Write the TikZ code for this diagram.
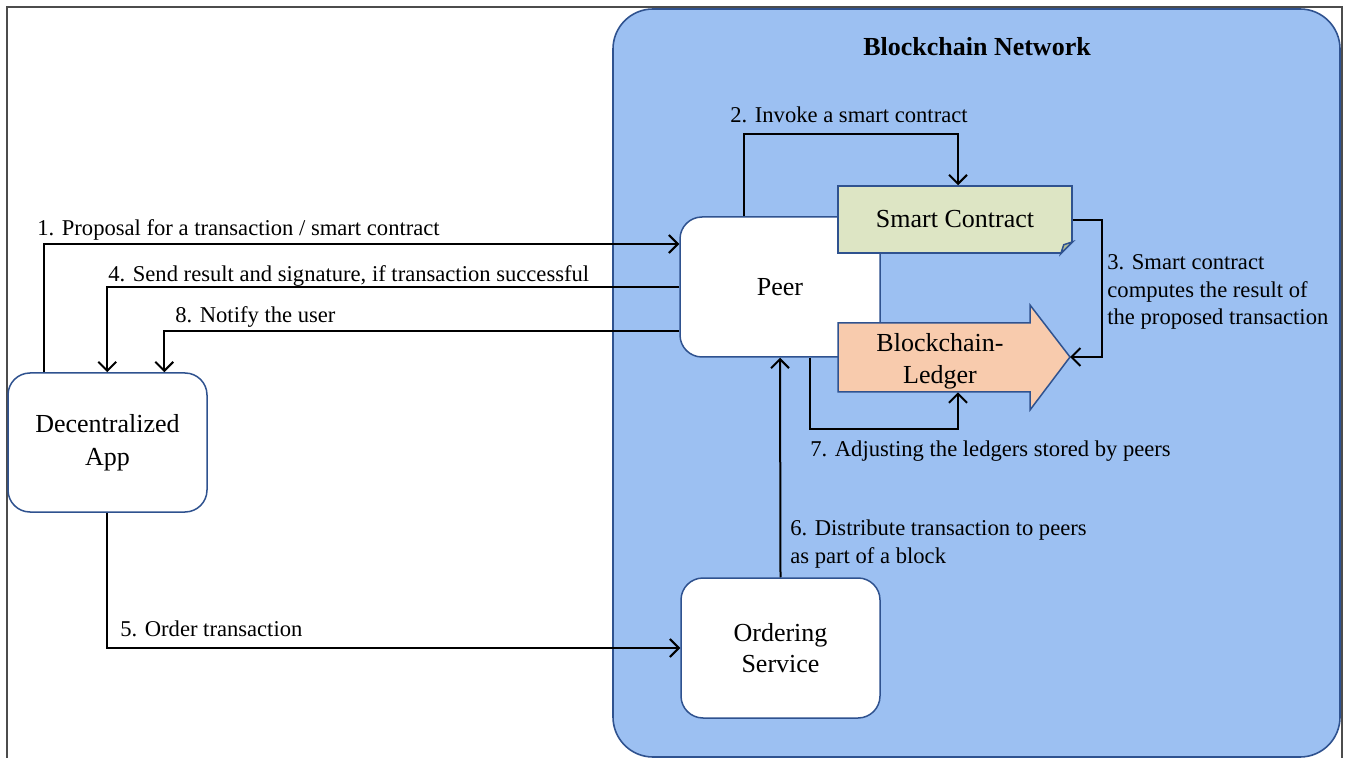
\documentclass[tikz,border=0pt]{standalone}
\usepackage{fontspec}
\setmainfont{Liberation Serif}
\usepackage{xcolor}
\usetikzlibrary{arrows.meta}

\definecolor{netblue}{RGB}{156,192,242}
\definecolor{edgeblue}{RGB}{47,82,143}
\definecolor{contractgreen}{RGB}{221,229,196}
\definecolor{foldgreen}{RGB}{178,188,150}
\definecolor{ledgerorange}{RGB}{248,203,173}

\begin{document}
\begin{tikzpicture}[x=0.5pt,y=-0.5pt,
    box/.style={draw=edgeblue, line width=0.75pt, fill=white, rounded corners=11pt,
        minimum width=100pt, minimum height=70pt, align=center, inner sep=0pt,
        font=\fontsize{13}{16}\selectfont},
    flow/.style={draw=black, line width=1pt, -{Straight Barb[length=4.5pt,width=9pt]}},
    lbl/.style={inner sep=0pt, font=\fontsize{11.3}{13.9}\selectfont}]
    \clip (0,0) rectangle (1348,758);
    \draw[gray!60!black, line width=0.6pt] (7,7) rectangle (1342,780);
    \draw[fill=netblue, draw=edgeblue, line width=0.8pt, rounded corners=20pt] (613,9) rectangle (1340,757);
    \node[font=\fontsize{13}{16}\selectfont\bfseries] (title) at (977,47) {Blockchain Network};

    \node[box, minimum width=99.5pt, minimum height=69.5pt, font=\fontsize{13}{16.5}\selectfont] (app) at (107.5,442.5) {Decentralized\\App};
    \node[box] (peer) at (780,287) {Peer};
    \node[box, minimum width=99.5pt, font=\fontsize{13}{15.5}\selectfont] (order) at (780.5,648) {Ordering\\Service};

    \node[draw=edgeblue, line width=0.75pt, fill=contractgreen, minimum width=117pt, minimum height=33.5pt,
        inner sep=0pt, font=\fontsize{13}{16}\selectfont] (smart) at (955,219.5) {Smart Contract};
    \fill[netblue] ([xshift=-6.4pt]smart.south east) -- ([xshift=0.6pt,yshift=-0.6pt]smart.south east)
        -- ([yshift=6.4pt]smart.south east) -- cycle;
    \filldraw[fill=foldgreen, draw=edgeblue, line width=0.75pt] ([xshift=-6pt]smart.south east)
        -- ([yshift=6pt]smart.south east) -- ([xshift=-4.5pt,yshift=4.5pt]smart.south east) -- cycle;

    \filldraw[fill=ledgerorange, draw=edgeblue, line width=0.75pt] (838,323) -- (1030,323) -- (1030,305)
        -- (1070,357) -- (1030,410) -- (1030,392) -- (838,392) -- cycle;
    \coordinate (ledgertip) at (1070,357);
    \node[minimum width=96pt, minimum height=34.5pt, inner sep=0pt] (ledger) at (934,357.5) {};
    \node[align=center, font=\fontsize{13}{16}\selectfont] (ledgertext) at (940,361) {Blockchain-\\Ledger};

    \draw[flow] ([xshift=18.5pt]app.north west) |- ([yshift=21.5pt]peer.west);
    \draw[flow] (peer.west) -| ([xshift=50pt]app.north west);
    \draw[flow] ([yshift=-22pt]peer.west) -| ([xshift=78.5pt]app.north west);
    \draw[flow] ([xshift=32.5pt]peer.north west) -- ++(0,-82) -| ([xshift=1.5pt]smart.north);
    \draw[flow] ([yshift=-0.5pt]smart.east) -- ++(29,0) |- (ledgertip);
    \draw[flow] ([xshift=15pt]peer.south) -- ++(0,71) -| ([xshift=12pt]ledger.south);
    \draw[flow] (order.north) -- (peer.south);
    \draw[flow] ([xshift=50pt]app.south west) |- (order.west);

    \node[lbl, anchor=base west] (l1) at (37,236) {1. Proposal for a transaction / smart contract};
    \node[lbl, anchor=base west] (l4) at (108,282) {4. Send result and signature, if transaction successful};
    \node[lbl, anchor=base west] (l8) at (175,323) {8. Notify the user};
    \node[lbl, anchor=base west] (l2) at (730,123) {2. Invoke a smart contract};
    \node[lbl, anchor=base west, align=left] (l3) at (1107,325) {3. Smart contract\\computes the result of\\the proposed transaction};
    \node[lbl, anchor=base west] (l7) at (810,457) {7. Adjusting the ledgers stored by peers};
    \node[lbl, anchor=base west, align=left] (l6) at (790,563) {6. Distribute transaction to peers\\as part of a block};
    \node[lbl, anchor=base west] (l5) at (120,636) {5. Order transaction};
\end{tikzpicture}
\end{document}
